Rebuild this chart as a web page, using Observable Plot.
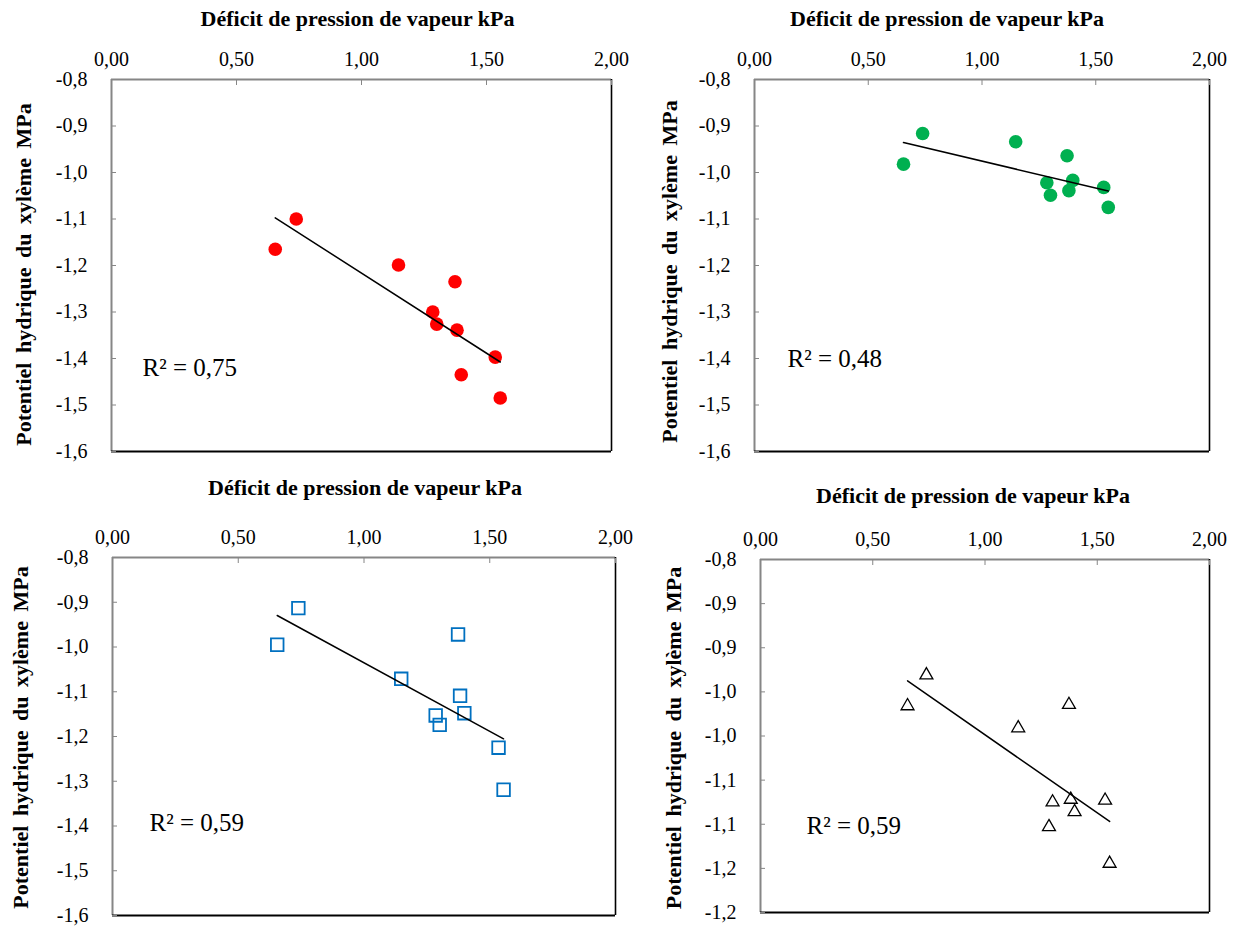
<!DOCTYPE html>
<html><head><meta charset="utf-8">
<script src="https://cdn.jsdelivr.net/npm/d3@7"></script>
<script src="https://cdn.jsdelivr.net/npm/@observablehq/plot@0.6"></script>
<style>
body{margin:0;background:#fff;}
#wrap{position:relative;width:1238px;height:928px;overflow:hidden;background:#fff;}
#wrap svg{position:absolute;overflow:visible;}
#wrap svg, #wrap svg text{font-family:"Liberation Serif","Times New Roman",serif !important;}
#wrap svg g.ylab text{word-spacing:4px;}
</style></head><body><div id="wrap"></div>
<script>
// ---- data ----
const vpd = [0.655, 0.739, 1.148, 1.285, 1.301, 1.374, 1.382, 1.399, 1.535, 1.555];
const psiRed   = [-1.165, -1.100, -1.199, -1.300, -1.326, -1.235, -1.339, -1.435, -1.397, -1.485];
const psiGreen = [-0.982, -0.916, -0.934, -1.022, -1.049, -0.964, -1.039, -1.017, -1.032, -1.075];
const psiBlue  = [-0.995, -0.913, -1.071, -1.153, -1.174, -0.972, -1.109, -1.148, -1.225, -1.319];
const psiBlack = [-0.966, -0.931, -0.991, -1.103, -1.075, -0.9645, -1.072, -1.086, -1.073, -1.1445];

const xTicks = [0, 0.5, 1, 1.5, 2];
const xTickLabels = ["0,00", "0,50", "1,00", "1,50", "2,00"];
const yTicksA = [-0.8, -0.9, -1.0, -1.1, -1.2, -1.3, -1.4, -1.5, -1.6];
const yTickLabelsA = ["-0,8", "-0,9", "-1,0", "-1,1", "-1,2", "-1,3", "-1,4", "-1,5", "-1,6"];
const yTicksB = [-0.8, -0.85, -0.9, -0.95, -1.0, -1.05, -1.1, -1.15, -1.2];
const yTickLabelsB = ["-0,8", "-0,9", "-0,9", "-1,0", "-1,0", "-1,1", "-1,1", "-1,2", "-1,2"];
const r2Labels = ["R² = 0,75", "R² = 0,48", "R² = 0,59", "R² = 0,59"];
const xTitle = "Déficit de pression de vapeur kPa";
const yTitle = "Potentiel hydrique du xylème MPa";

// ---- layout / styles ----
const GRAY = "#868686";
const lookup = (ticks, labels) => d => labels[ticks.findIndex(t => Math.abs(t - d) < 1e-9)];

const panels = [
  {left: 0,   top: 0,   w: 620, h: 465, ml: 111, mr: 9,  mt: 79, mb: 14, ys: psiRed,   ticks: yTicksA, labels: yTickLabelsA,
   mark: {r: 6.8, fill: "#FF0000", stroke: null}, tdx: -4, tdy: -61, ydx: -88, ydy: 9, rdx: 31, rdy: 288},
  {left: 620, top: 0,   w: 618, h: 465, ml: 134, mr: 29, mt: 79, mb: 14, ys: psiGreen, ticks: yTicksA, labels: yTickLabelsA,
   mark: {r: 6.8, fill: "#00B050", stroke: null}, tdx: -35, tdy: -61, ydx: -85, ydy: 6, rdx: 33, rdy: 279},
  {left: 0,   top: 465, w: 620, h: 463, ml: 112, mr: 5,  mt: 92, mb: 13, ys: psiBlue,  ticks: yTicksA, labels: yTickLabelsA,
   mark: {symbol: "square", r: 7.1, fill: "none", stroke: "#0070C0", strokeWidth: 1.8}, tdx: 1, tdy: -70, ydx: -92, ydy: 1, rdx: 37, rdy: 265},
  {left: 620, top: 465, w: 618, h: 463, ml: 140, mr: 29, mt: 94, mb: 16, ys: psiBlack, ticks: yTicksB, labels: yTickLabelsB,
   mark: {symbol: "triangle", r: 4.8, fill: "none", stroke: "#000", strokeWidth: 1.3}, tdx: -12, tdy: -64, ydx: -87, ydy: 2, rdx: 46, rdy: 266}
];

const wrap = document.getElementById("wrap");
panels.forEach((p, k) => {
  const data = vpd.map((x, i) => ({x, y: p.ys[i]}));
  const yMax = p.ticks[0], yMin = p.ticks[p.ticks.length - 1];
  const chart = Plot.plot({
    width: p.w, height: p.h,
    marginLeft: p.ml, marginRight: p.mr, marginTop: p.mt, marginBottom: p.mb,
    x: {domain: [xTicks[0], xTicks[xTicks.length - 1]]},
    y: {domain: [yMin, yMax]},
    style: {fontSize: "20px", color: "#000", background: "transparent", overflow: "visible"},
    marks: [
      Plot.ruleX([xTicks[0]], {stroke: GRAY, strokeWidth: 2}),
      Plot.ruleY([yMax], {stroke: GRAY, strokeWidth: 2}),
      Plot.ruleX([xTicks[xTicks.length - 1]], {stroke: "#000", strokeWidth: 1.6}),
      Plot.ruleY([yMin], {stroke: "#000", strokeWidth: 2}),
      Plot.axisX(xTicks, {anchor: "top", tickSize: -5, tickPadding: 19, stroke: GRAY, fill: "#000",
        tickFormat: lookup(xTicks, xTickLabels), label: null, fontSize: 20}),
      Plot.axisY(p.ticks, {anchor: "left", tickSize: -5, tickPadding: 29, stroke: GRAY, fill: "#000",
        tickFormat: lookup(p.ticks, p.labels), label: null, fontSize: 20}),
      Plot.dot(data, {x: "x", y: "y", ...p.mark}),
      Plot.linearRegressionY(data, {x: "x", y: "y", stroke: "#000", strokeWidth: 1.5, ci: 0}),
      Plot.text([xTitle], {text: d => d, frameAnchor: "top", textAnchor: "middle", lineAnchor: "middle",
        dx: p.tdx, dy: p.tdy, fontWeight: "bold", fontSize: 22, fill: "#000"}),
      Plot.text([yTitle], {text: d => d, frameAnchor: "left", textAnchor: "middle", lineAnchor: "middle",
        dx: p.ydx, dy: p.ydy, rotate: -90, fontWeight: "bold", fontSize: 22, fill: "#000", className: "ylab"}),
      Plot.text([r2Labels[k]], {text: d => d, frameAnchor: "top-left", textAnchor: "start", lineAnchor: "middle",
        dx: p.rdx, dy: p.rdy, fontSize: 25, fill: "#000"})
    ]
  });
  chart.style.left = p.left + "px";
  chart.style.top = p.top + "px";
  wrap.appendChild(chart);
});
</script></body></html>
